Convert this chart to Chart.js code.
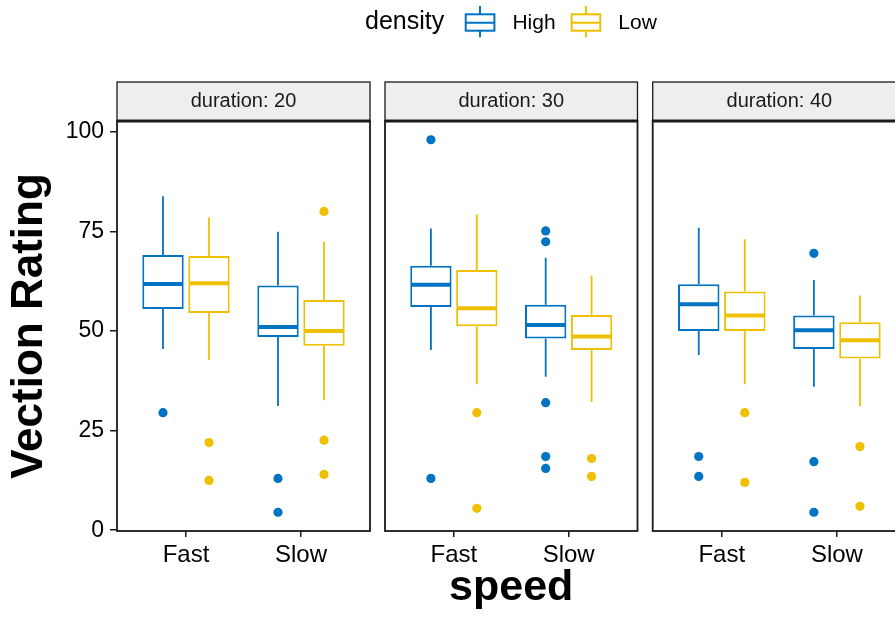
<!DOCTYPE html>
<html>
<head>
<meta charset="utf-8">
<script src="https://cdn.jsdelivr.net/npm/chart.js@4.4.1/dist/chart.umd.min.js"></script>
<style>
  html, body { margin: 0; padding: 0; overflow: hidden; background: #fff; }
  #wrap { position: relative; width: 910px; height: 617px; }
  .layer { position: absolute; left: 0; top: 0; width: 910px; height: 617px; }
</style>
</head>
<body>
<div id="wrap">
  <div class="layer"><canvas id="p20"></canvas></div>
  <div class="layer"><canvas id="p30"></canvas></div>
  <div class="layer"><canvas id="p40"></canvas></div>
</div>
<script>
// values
const speeds = ['Fast', 'Slow'];
const densities = ['High', 'Low'];
const durations = [20, 30, 40];
const yTicks = [0, 25, 50, 75, 100];

// box stats per speed: [lower whisker, Q1, median, Q3, upper whisker]
const high20 = [[45.5, 55.5, 61.8, 69.1, 83.8], [31.2, 48.5, 51.0, 61.4, 74.9]];
const low20  = [[42.7, 54.5, 62.0, 68.8, 78.5], [32.6, 46.3, 50.0, 57.8, 72.4]];
const high30 = [[45.2, 56.0, 61.6, 66.4, 75.7], [38.5, 48.1, 51.5, 56.6, 68.4]];
const low30  = [[36.6, 51.2, 55.7, 65.3, 79.3], [32.2, 45.2, 48.6, 54.0, 63.9]];
const high40 = [[44.0, 50.0, 56.7, 61.7, 75.9], [36.0, 45.5, 50.2, 53.9, 62.8]];
const low40  = [[36.6, 50.0, 53.9, 59.9, 73.0], [31.2, 43.1, 47.7, 52.2, 58.9]];

// outliers per speed
const highOut20 = [[29.5], [13, 4.5]];
const lowOut20  = [[22, 12.5], [80, 22.6, 14]];
const highOut30 = [[98, 13], [75.1, 72.4, 32, 18.5, 15.5]];
const lowOut30  = [[29.5, 5.5], [18, 13.5]];
const highOut40 = [[18.5, 13.5], [69.5, 17.2, 4.5]];
const lowOut40  = [[29.5, 12], [21, 6]];

const colors = ['#0073C2', '#EFC000'];
const FONT = "'Liberation Sans', Arial, Helvetica, sans-serif";
Chart.defaults.font.family = FONT;

// whiskers, medians and outliers on top of the floating bars
const boxExtras = {
	id: 'boxExtras',
	afterDatasetsDraw(chart) {
		const ctx = chart.ctx;
		const y = chart.scales.y;
		ctx.save();
		chart.data.datasets.forEach((ds, d) => {
			const meta = chart.getDatasetMeta(d);
			meta.data.forEach((bar, i) => {
				const {x, width} = bar.getProps(['x', 'width'], true);
				const s = ds.stats[i];
				ctx.strokeStyle = ds.borderColor;
				ctx.lineWidth = 1.8;
				ctx.beginPath();
				ctx.moveTo(x, y.getPixelForValue(s[4]));
				ctx.lineTo(x, y.getPixelForValue(s[3]));
				ctx.moveTo(x, y.getPixelForValue(s[1]));
				ctx.lineTo(x, y.getPixelForValue(s[0]));
				ctx.stroke();
				const m = y.getPixelForValue(s[2]);
				ctx.lineWidth = 4;
				ctx.beginPath();
				ctx.moveTo(x - width / 2 + 1, m);
				ctx.lineTo(x + width / 2 - 1, m);
				ctx.stroke();
				ctx.fillStyle = ds.borderColor;
				ds.outliers[i].forEach(v => {
					ctx.beginPath();
					ctx.arc(x, y.getPixelForValue(v), 4.6, 0, Math.PI * 2);
					ctx.fill();
				});
			});
		});
		ctx.restore();
	}
};

// panel border and facet strip
const facetFrame = {
	id: 'facetFrame',
	afterDraw(chart, args, opts) {
		const {ctx, chartArea: a} = chart;
		const h = 39;
		ctx.save();
		ctx.fillStyle = '#EEEEEE';
		ctx.fillRect(a.left, a.top - h, a.width, h);
		ctx.strokeStyle = '#1a1a1a';
		ctx.lineWidth = 1.3;
		ctx.strokeRect(a.left, a.top - h, a.width, h);
		ctx.lineWidth = 1.8;
		ctx.strokeRect(a.left, a.top, a.width, a.height);
		ctx.lineWidth = 2.8;
		ctx.beginPath();
		ctx.moveTo(a.left, a.top);
		ctx.lineTo(a.right, a.top);
		ctx.stroke();
		ctx.fillStyle = '#1a1a1a';
		ctx.font = '20px ' + FONT;
		ctx.textAlign = 'center';
		ctx.textBaseline = 'middle';
		ctx.fillText(opts.text, (a.left + a.right) / 2, a.top - h / 2);
		ctx.restore();
	}
};

// "density" legend with small boxplot keys
const densityLegend = {
	id: 'densityLegend',
	afterDraw(chart) {
		const ctx = chart.ctx;
		const base = 29.3;
		let x = 365;
		ctx.save();
		ctx.fillStyle = '#000';
		ctx.textBaseline = 'alphabetic';
		ctx.font = '25px ' + FONT;
		ctx.fillText('density', x, base);
		x += ctx.measureText('density').width + 20.5;
		ctx.font = '21px ' + FONT;
		chart.data.datasets.forEach(ds => {
			ctx.strokeStyle = ds.borderColor;
			ctx.lineWidth = 2;
			ctx.strokeRect(x + 1, 14.3, 28.7, 16.4);
			ctx.beginPath();
			ctx.moveTo(x + 1, 22.7);
			ctx.lineTo(x + 29.7, 22.7);
			ctx.moveTo(x + 15.3, 6);
			ctx.lineTo(x + 15.3, 14.3);
			ctx.moveTo(x + 15.3, 30.7);
			ctx.lineTo(x + 15.3, 37.3);
			ctx.stroke();
			ctx.fillStyle = '#000';
			ctx.fillText(ds.label, x + 47.7, base);
			x += 47.7 + ctx.measureText(ds.label).width + 15;
		});
		ctx.restore();
	}
};

function makeDataset(label, color, stats, outliers) {
	return {
		label: label,
		stats: stats,
		outliers: outliers,
		data: stats.map((s, i) => ({x: i + 1, y: [s[1], s[3]]})),
		backgroundColor: '#ffffff',
		borderColor: color,
		borderWidth: 2,
		borderSkipped: false,
		categoryPercentage: 0.8,
		barPercentage: 0.9
	};
}

function makePanel(id, duration, high, highOut, low, lowOut, o) {
	const plugins = [boxExtras, facetFrame];
	if (o.legend) plugins.push(densityLegend);
	return new Chart(document.getElementById(id), {
		type: 'bar',
		data: {
			datasets: [
				makeDataset(densities[0], colors[0], high, highOut),
				makeDataset(densities[1], colors[1], low, lowOut)
			]
		},
		options: {
			responsive: true,
			maintainAspectRatio: false,
			animation: false,
			layout: {padding: {left: o.left, right: o.right, top: 121, bottom: 0}},
			plugins: {
				legend: {display: false},
				tooltip: {enabled: false},
				facetFrame: {text: 'duration: ' + duration}
			},
			scales: {
				x: {
					type: 'linear',
					min: 0.4,
					max: 2.6,
					offset: false,
					afterBuildTicks: s => { s.ticks = speeds.map((_, i) => ({value: i + 1})); },
					afterFit: s => { s.height = 86; },
					grid: {offset: false, drawOnChartArea: false, drawTicks: true, tickLength: 6, color: '#1a1a1a', lineWidth: 1.5},
					border: {display: false},
					ticks: {
						color: '#000',
						font: {size: 24},
						padding: 4,
						maxRotation: 0,
						autoSkip: false,
						callback: v => speeds[v - 1]
					},
					title: {
						display: o.xTitle,
						text: 'speed',
						color: '#000',
						font: {size: 43, weight: 'bold', lineHeight: 1.2},
						padding: {top: 0, bottom: 3}
					}
				},
				y: {
					display: o.yAxis,
					min: -0.2,
					max: 102.7,
					afterBuildTicks: s => { s.ticks = yTicks.map(v => ({value: v})); },
					afterFit: s => { if (o.yAxis) s.width = 117; },
					grid: {drawOnChartArea: false, drawTicks: true, tickLength: 7, color: '#1a1a1a', lineWidth: 1.5},
					border: {display: false},
					ticks: {color: '#000', font: {size: 23}, padding: 6},
					title: {
						display: true,
						text: 'Vection Rating',
						color: '#000',
						font: {size: 44, weight: 'bold', lineHeight: 1.2},
						padding: {top: 3, bottom: 0}
					}
				}
			}
		},
		plugins: plugins
	});
}

makePanel('p20', durations[0], high20, highOut20, low20, lowOut20, {left: 0, right: 540, yAxis: true, xTitle: false, legend: true});
makePanel('p30', durations[1], high30, highOut30, low30, lowOut30, {left: 385, right: 272.5, yAxis: false, xTitle: true, legend: false});
makePanel('p40', durations[2], high40, highOut40, low40, lowOut40, {left: 652.7, right: 4, yAxis: false, xTitle: false, legend: false});
</script>
</body>
</html>
